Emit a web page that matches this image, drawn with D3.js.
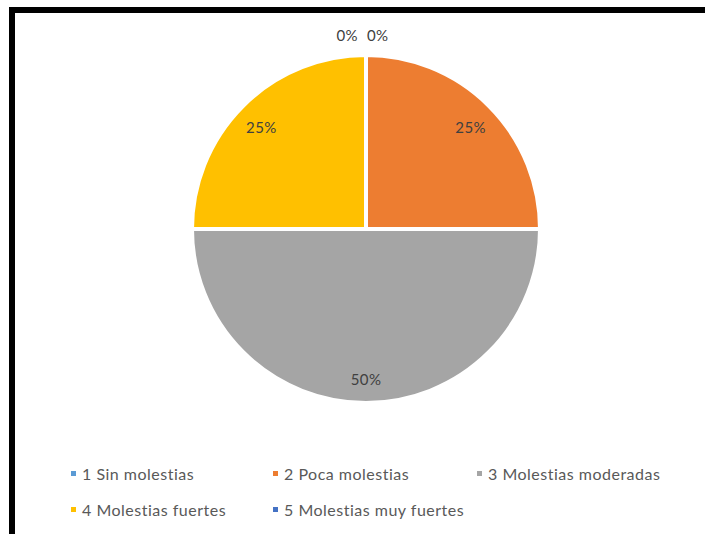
<!DOCTYPE html>
<html>
<head>
<meta charset="utf-8">
<script src="https://cdn.jsdelivr.net/npm/d3@7"></script>
<style>
  body { margin: 0; background: #fff; }
  svg { display: block; font-family: Lato, "Open Sans", sans-serif; }
</style>
</head>
<body>
<div id="chart"></div>
<script>
const categories = ["1 Sin molestias", "2 Poca molestias", "3 Molestias moderadas", "4 Molestias fuertes", "5 Molestias muy fuertes"];
const values = [0, 25, 50, 25, 0];
const colors = ["#5B9BD5", "#ED7D31", "#A5A5A5", "#FFC000", "#4472C4"];

const width = 705, height = 534;
const cx = 366, cy = 229, radius = 174;

const svg = d3.select("#chart").append("svg")
    .attr("width", width)
    .attr("height", height);

svg.append("rect").attr("width", width).attr("height", height).attr("fill", "#fff");

// frame: only top and left edges show
svg.append("path")
    .attr("d", "M12,534 L12,10 L705,10")
    .attr("fill", "none")
    .attr("stroke", "#000")
    .attr("stroke-width", 6);

const pie = d3.pie().sort(null).value(d => d);
const arcs = pie(values);

const arc = d3.arc().innerRadius(0).outerRadius(radius);
const labelArc = d3.arc().innerRadius(148).outerRadius(148);
const outerArc = d3.arc().innerRadius(193).outerRadius(193);

const g = svg.append("g").attr("transform", `translate(${cx},${cy})`);

g.selectAll("path.slice")
    .data(arcs)
    .enter().append("path")
    .attr("class", "slice")
    .attr("d", arc)
    .attr("fill", (d, i) => colors[i])
    .attr("stroke", "#fff")
    .attr("stroke-width", d => d.value > 0 ? 4 : 0);

const total = d3.sum(values);
let zeroCount = 0;
g.selectAll("text.lbl")
    .data(arcs)
    .enter().append("text")
    .attr("class", "lbl")
    .each(function(d) {
        const t = d3.select(this);
        if (d.value > 0) {
            const [x, y] = labelArc.centroid(d);
            t.attr("x", x).attr("y", y + 3).attr("text-anchor", "middle");
        } else {
            const [x, y] = outerArc.centroid(d);
            const first = zeroCount++ === 0;
            t.attr("x", x + (first ? -8 : 1)).attr("y", y)
             .attr("text-anchor", first ? "end" : "start");
        }
    })
    .attr("dy", "0.35em")
    .attr("font-size", 15)
    .attr("letter-spacing", 0.4)
    .attr("fill", "#404040")
    .text(d => Math.round(d.value / total * 100) + "%");

// legend
const colX = [71, 273, 477];
const rowY = [474, 510];
const legend = svg.append("g");
categories.forEach((c, i) => {
    const x = colX[i % 3], y = rowY[Math.floor(i / 3)];
    legend.append("rect")
        .attr("x", x).attr("y", y - 3)
        .attr("width", 5).attr("height", 5)
        .attr("fill", colors[i]);
    legend.append("text")
        .attr("x", x + 11).attr("y", y)
        .attr("dy", "0.35em")
        .attr("font-size", 16)
        .attr("letter-spacing", 0.5)
        .attr("fill", "#595959")
        .text(c);
});
</script>
</body>
</html>
